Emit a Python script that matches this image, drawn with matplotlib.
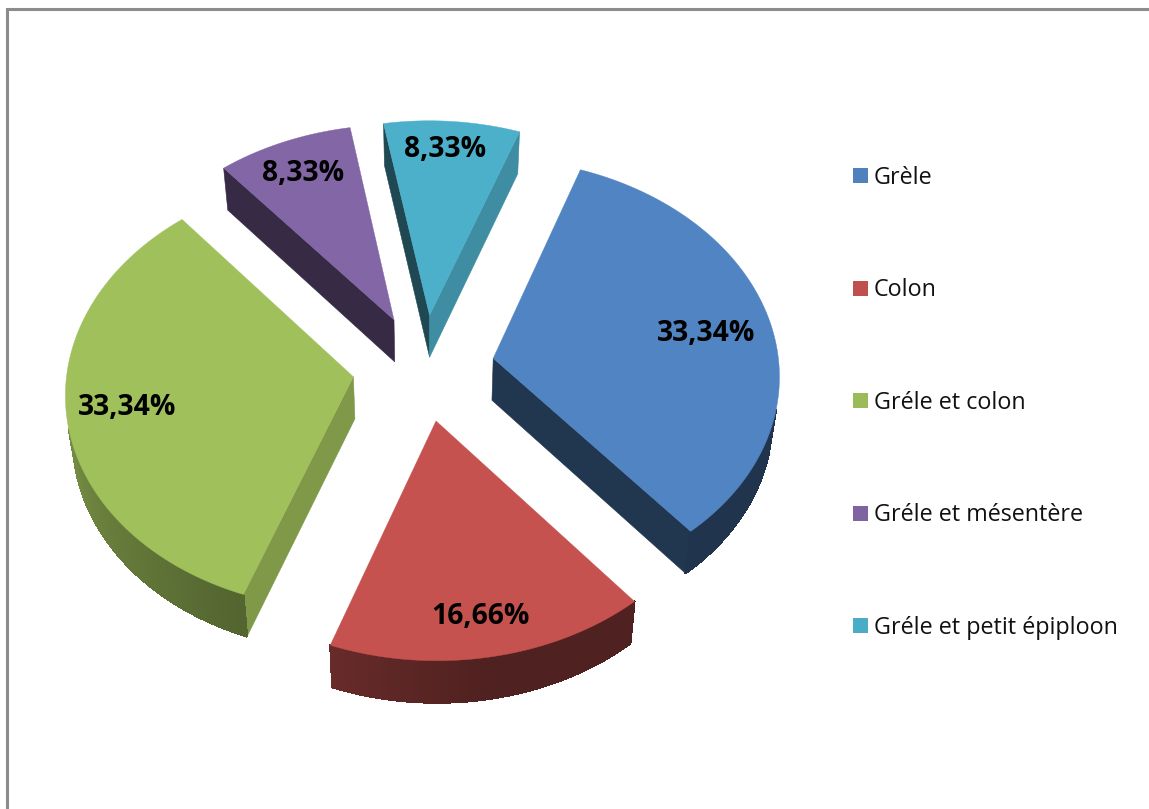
import numpy as np
import matplotlib as mpl
import matplotlib.pyplot as plt
from matplotlib.collections import PolyCollection
from matplotlib.colors import to_rgb
from matplotlib.patches import Patch, Polygon

mpl.use('Agg')

categories = ['Grèle', 'Colon', 'Gréle et colon', 'Gréle et mésentère', 'Gréle et petit épiploon']
percents = [33.34, 16.66, 33.34, 8.33, 8.33]
colors = ['#4F81BD', '#C0504D', '#9BBB59', '#8064A2', '#4BACC6']
label_pos = [(706, 333), (480, 616), (127, 407), (303, 173), (445, 149)]

# pie geometry in pixels
start_angle = 20
cx, cy = 423.5, 367.5
radius = 286
explode = 71
squash = 0.752
persp = 0.07
depth = 42
vanish_x = 430
shrink = 0.02


def project(X, Y, z=0.0):
    s = 1 / (1 + persp * Y / radius)
    x = cx + X * s
    # the underside converges a little towards the middle
    x = vanish_x + (x - vanish_x) * (1 - shrink * z / depth)
    return x, cy - squash * Y * s + z


def shade(color, f):
    return tuple(min(c * f, 1) for c in to_rgb(color))


def side_quad(ax, p, q, color, zorder):
    pts = [project(*p), project(*q), project(*q, depth), project(*p, depth)]
    ax.add_patch(Polygon(pts, closed=True, facecolor=color, edgecolor=color, lw=0.4, zorder=zorder))


def face_visible(a, b, inside):
    # seen only when the wedge lies above the edge on the page
    ex, ey = b[0] - a[0], b[1] - a[1]
    side = ex * (inside[1] - a[1]) - ey * (inside[0] - a[0])
    return side < 0 if ex > 0 else side > 0


def draw_wedge(ax, a0, a1, color, zorder):
    mid = np.radians((a0 + a1) / 2)
    ox, oy = explode * np.sin(mid), explode * np.cos(mid)
    t = np.radians(np.linspace(a0, a1, int(a1 - a0) * 2 + 2))
    X = ox + radius * np.sin(t)
    Y = oy + radius * np.cos(t)
    inside = project(ox + radius / 2 * np.sin(mid), oy + radius / 2 * np.cos(mid))

    # cut faces: the ones turned to the right catch the light
    for ang, pt, sign in [(a0, (X[0], Y[0]), -1), (a1, (X[-1], Y[-1]), 1)]:
        if not face_visible(project(ox, oy), project(*pt), inside):
            continue
        normal_x = np.sin(np.radians(ang + sign * 90))
        f = 0.82 if normal_x > 0 else 0.42
        side_quad(ax, (ox, oy), pt, shade(color, f), zorder)

    # outer rim, shaded along the angle
    quads, rim_colors = [], []
    for i in range(len(t) - 1):
        deg = np.degrees(t[i]) % 360
        if np.cos(t[i]) > -0.24 and np.cos(t[i + 1]) > -0.24:
            continue
        quads.append([project(X[i], Y[i]), project(X[i + 1], Y[i + 1]),
                      project(X[i + 1], Y[i + 1], depth), project(X[i], Y[i], depth)])
        rim_colors.append(shade(color, np.interp(deg, [170, 198, 270], [0.41, 0.53, 0.8])))
    if quads:
        ax.add_collection(PolyCollection(quads, facecolors=rim_colors, edgecolors=rim_colors,
                                         linewidths=0.8, antialiaseds=False, zorder=zorder))

    # top face
    tx, ty = project(np.r_[ox, X], np.r_[oy, Y])
    top = shade(color, 1.025)
    ax.add_patch(Polygon(np.column_stack([tx, ty]), closed=True, facecolor=top,
                         edgecolor=top, lw=0.3, zorder=zorder + 0.5))


fig = plt.figure(figsize=(11.49, 8.09), dpi=100)
ax = fig.add_axes([0, 0, 1, 1])
ax.set_xlim(0, 1149)
ax.set_ylim(809, 0)
ax.axis('off')

# chart frame, right and bottom sides run off the page
ax.plot([6.5, 6.5, 1149], [809, 9, 9], color='#8c8c8c', lw=2.2, solid_joinstyle='miter')

angles = start_angle + np.r_[0, np.cumsum(percents)] / np.sum(percents) * 360
for i, color in enumerate(colors):
    draw_wedge(ax, angles[i], angles[i + 1], color, 2 + i)

for value, (x, y) in zip(percents, label_pos):
    ax.text(x, y, f'{value:.2f}%'.replace('.', ','), ha='center', va='center', color='black',
            family='Open Sans', weight='bold', fontsize=20.3, zorder=20)

handles = [Patch(facecolor=c, edgecolor='none') for c in colors]
ax.legend(handles, categories, loc='upper left', bbox_to_anchor=(853, 166), bbox_transform=ax.transData,
          frameon=False, prop={'family': 'Open Sans', 'size': 16.85}, handlelength=0.64, handleheight=0.61,
          handletextpad=0.26, labelspacing=3.78, labelcolor='#111111', borderpad=0, borderaxespad=0)

plt.savefig('out.png', dpi=100)
